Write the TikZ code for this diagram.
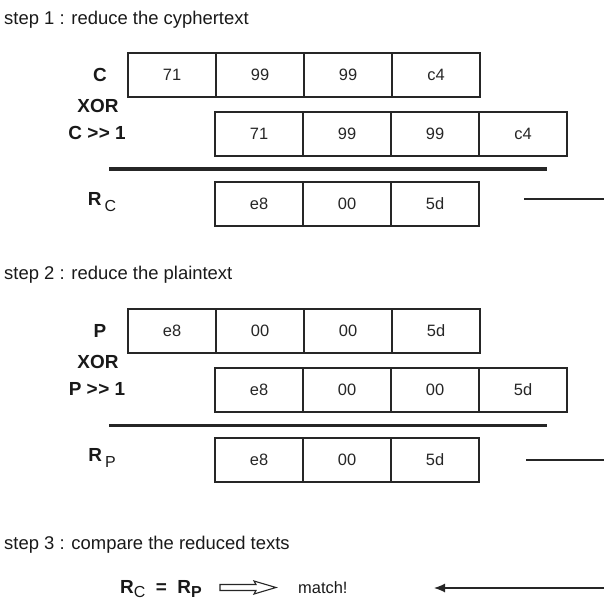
\documentclass[tikz,border=0pt]{standalone}
\usepackage{fontspec}
\setmainfont{Liberation Sans}[Ligatures=NoCommon]
\usetikzlibrary{arrows.meta}
\newcommand{\gtgt}{\textgreater\kern0.5pt\textgreater}
\begin{document}
\begin{tikzpicture}[x=1bp,y=-1bp,
  cell/.style={draw=black!85, line width=1.2bp, minimum width=88bp, minimum height=44bp, inner sep=0pt, font=\fontsize{16.5}{16.5}\selectfont, text=black!85},
  lbl/.style={font=\bfseries\fontsize{19}{19}\selectfont, inner sep=0pt, text=black!90},
  steptxt/.style={font=\fontsize{18.5}{18.5}\selectfont, anchor=base west, inner sep=0pt, text=black!90},
  sepline/.style={line width=3bp, draw=black!85},
  thinline/.style={line width=1.2bp, draw=black!85}]
\useasboundingbox (0,0) rectangle (604,601);

% step 1
\node[steptxt] (s1) at (4,25) {step 1 : reduce the cyphertext};
\foreach \t [count=\i] in {71,99,99,c4} \node[cell] (c\i) at ({172+88*(\i-1)},75) {\t};
\foreach \t [count=\i] in {71,99,99,c4} \node[cell] (cs\i) at ({259+88*(\i-1)},134) {\t};
\foreach \t [count=\i] in {e8,00,5d} \node[cell] (rc\i) at ({259+88*(\i-1)},204) {\t};
\node[lbl] (lc) at (100,75) {C};
\node[lbl] (lx1) at (98,106) {XOR};
\node[lbl] (lcs) at (97,133) {C \gtgt{} 1};
\node[lbl] (lrc) at (102,202) {R\,\raisebox{-6bp}{\mdseries\fontsize{16}{16}\selectfont C}};
\coordinate (l1a) at (109,169); \coordinate (l1b) at (547,169);
\draw[sepline] (l1a) -- (l1b);
\coordinate (r1a) at (524,199); \coordinate (r1b) at (604,199);
\draw[thinline] (r1a) -- (r1b);

% step 2
\node[steptxt] (s2) at (4,279) {step 2 : reduce the plaintext};
\foreach \t [count=\i] in {e8,00,00,5d} \node[cell] (p\i) at ({172+88*(\i-1)},331) {\t};
\foreach \t [count=\i] in {e8,00,00,5d} \node[cell] (ps\i) at ({259+88*(\i-1)},390) {\t};
\foreach \t [count=\i] in {e8,00,5d} \node[cell] (rp\i) at ({259+88*(\i-1)},460) {\t};
\node[lbl] (lp) at (100,331) {P};
\node[lbl] (lx2) at (98,362) {XOR};
\node[lbl] (lps) at (97,389) {P \gtgt{} 1};
\node[lbl] (lrp) at (102,458) {R\,\raisebox{-6bp}{\mdseries\fontsize{16}{16}\selectfont P}};
\coordinate (l2a) at (109,425); \coordinate (l2b) at (547,425);
\draw[sepline] (l2a) -- (l2b);
\coordinate (r2a) at (526,460); \coordinate (r2b) at (604,460);
\draw[thinline] (r2a) -- (r2b);

% step 3
\node[steptxt] (s3) at (4,549) {step 3 : compare the reduced texts};
\node[lbl, anchor=base west] (eq) at (120,593) {R\raisebox{-4.5bp}{\mdseries\fontsize{16}{16}\selectfont C}\ \ =\ \ R\raisebox{-4.5bp}{\fontsize{16}{16}\selectfont P}};
\draw[thinline, line width=1.1bp, line join=miter] (220,584.5) -- (256,584.5) -- (254,581) -- (276,587.5) -- (254,594) -- (256,590.5) -- (220,590.5) -- cycle;
\node[steptxt, font=\fontsize{16.5}{16.5}\selectfont] (m) at (298,593) {match!};
\coordinate (a1) at (604,588); \coordinate (a2) at (434,588);
\draw[thinline, -{Latex[length=11bp,width=9bp]}] (a1) -- (a2);
\end{tikzpicture}
\end{document}
